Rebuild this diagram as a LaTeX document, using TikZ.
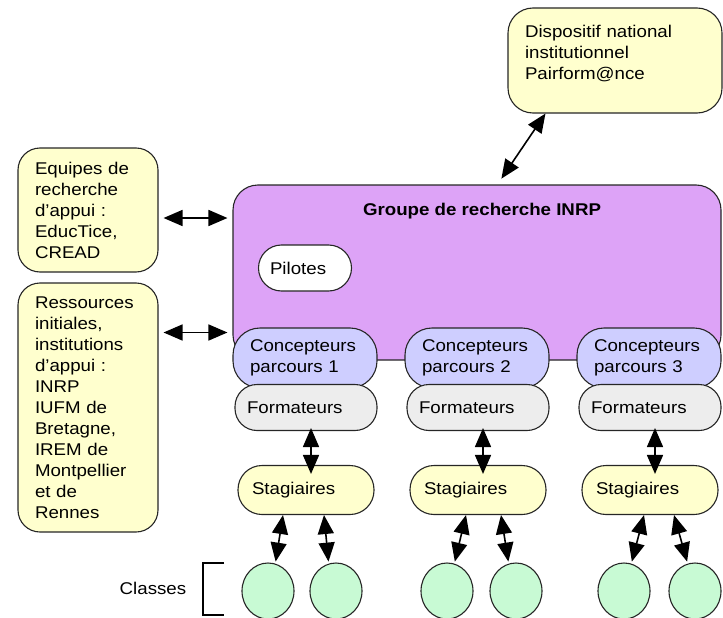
\documentclass[tikz,border=0pt]{standalone}
\usepackage{fontspec}
\setmainfont{Liberation Sans}[FakeStretch=1.1]
\usetikzlibrary{arrows.meta,shapes.geometric}
\definecolor{jaune}{RGB}{255,255,206}
\definecolor{mauve}{RGB}{221,163,247}
\definecolor{lavande}{RGB}{206,206,255}
\definecolor{gris}{RGB}{237,237,237}
\definecolor{menthe}{RGB}{200,250,212}
\tikzset{
  boite/.style={draw=black!85,line width=1.1pt,fill=jaune,rounded corners=22pt,align=left,inner sep=0pt},
  concbox/.style={draw=black!85,line width=1.1pt,fill=lavande,rounded corners=27pt,minimum width=144pt,minimum height=60pt,text width=110pt,inner xsep=17pt,align=left},
  formbox/.style={draw=black!85,line width=1.1pt,fill=gris,rounded corners=22pt,minimum width=142pt,minimum height=46pt,text width=118pt,inner xsep=12pt,align=left},
  stagbox/.style={draw=black!85,line width=1.1pt,fill=jaune,rounded corners=24pt,minimum width=136pt,minimum height=49pt,text width=108pt,inner xsep=14pt,align=left},
  classe/.style={draw=black!85,line width=1.1pt,fill=menthe,ellipse,minimum width=52pt,minimum height=56pt,inner sep=0pt},
  fleche/.style={<->,line width=1.6pt}
}
\begin{document}
\begin{tikzpicture}[x=1pt,y=-1pt,>={Triangle[length=19pt,width=16pt]},font=\fontsize{17}{21}\selectfont]
            \useasboundingbox (0,0) rectangle (723,618);
            \node[boite,rounded corners=25pt,minimum width=214pt,minimum height=105pt,text width=180pt] (disp) at (615,60.5) {Dispositif national\\institutionnel\\Pairform@nce\\[-5pt]~};
            \node[boite,minimum width=140pt,minimum height=124pt,text width=106pt] (equipes) at (88,210) {Equipes de\\recherche\\d'appui :\\EducTice,\\CREAD};
            \node[boite,minimum width=140pt,minimum height=249pt,text width=106pt] (ressources) at (88,407.5) {Ressources\\initiales,\\institutions\\d'appui :\\INRP\\IUFM de\\Bretagne,\\IREM de\\Montpellier\\et de\\Rennes};
            \node[draw=black!85,line width=1.1pt,fill=mauve,rounded corners=25pt,minimum width=488pt,minimum height=175pt] (groupe) at (477,272.5) {};
            \node[font=\fontsize{17}{21}\selectfont\bfseries] (titre) at (482,211) {Groupe de recherche INRP};
            \node[draw=black!85,line width=1.1pt,fill=white,rounded corners=23pt,minimum width=93pt,minimum height=46pt,text width=70pt,align=left,inner xsep=11pt] (pilotes) at (305,268) {Pilotes};
            \foreach \n/\x/\a/\b/\ca/\cb in {1/305/-23/18/268/336,2/477/-12/23/447/516,3/649/-6/24/624/695} {
            \node[concbox] (conc\n) at (\x,358) {Concepteurs\\parcours \n};
            \node[formbox] (form\n) at (\x+1,407.5) {Formateurs};
            \node[stagbox] (stag\n) at (\x+1,490) {Stagiaires};
            \node[classe] (cla\n) at (\ca,591) {};
            \node[classe] (clb\n) at (\cb,591) {};
            \draw[fleche,shorten <=-3pt,shorten >=-9pt] ([xshift=5pt]form\n.south) -- ([xshift=5pt]form\n.south |- stag\n.north);
            \draw[fleche,shorten >=2pt] ([xshift=\a pt]stag\n.south) -- (cla\n.75);
            \draw[fleche,shorten >=2pt] ([xshift=\b pt]stag\n.south) -- (clb\n.105);
            }
            \draw[fleche,shorten <=5pt,shorten >=5pt] ([yshift=-8pt]equipes.east) -- ([yshift=-8pt]equipes.east -| groupe.west);
            \draw[fleche,shorten <=5pt,shorten >=5pt] ([yshift=75pt]ressources.east) -- ([yshift=75pt]ressources.east -| groupe.west);
            \draw[fleche,shorten >=7pt] ([xshift=38pt]disp.south west) -- ([xshift=265pt]groupe.north west);
            \node (classes) at (153,588) {Classes};
            \draw[line width=1.1pt] (224,563) -- (203,563) -- (203,615) -- (224,615);
        \end{tikzpicture}
\end{document}
